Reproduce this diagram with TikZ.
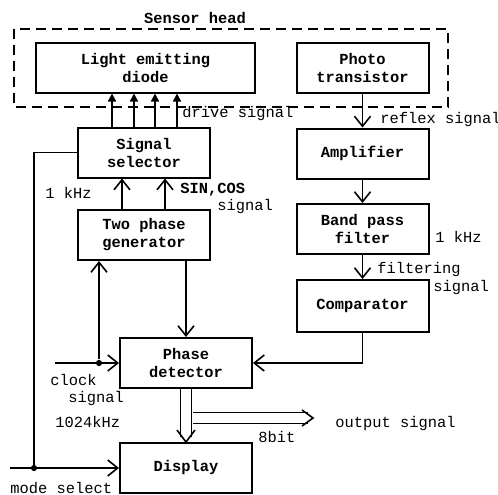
\documentclass[tikz,border=0pt]{standalone}
\usepackage{fontspec}
\setmonofont{Liberation Mono}
\usetikzlibrary{arrows.meta,calc,positioning}

\begin{document}
\begin{tikzpicture}[x=0.5pt,y=-0.5pt,
    font=\fontsize{7.7}{9}\selectfont\ttfamily,
    blk/.style={draw,line width=1pt,minimum width=66pt,minimum height=25pt,
      align=center,inner sep=1pt,font=\fontsize{7.7}{9}\selectfont\ttfamily\bfseries},
    lbl/.style={inner sep=0pt,anchor=west},
    sig/.style={line width=0.8pt,-{Straight Barb[length=5pt,width=8pt]}},
    drv/.style={line width=0.8pt,-{Triangle[length=4pt,width=4pt]}},
    bus/.style={line width=0.8pt,double,double distance=4.6pt},
    vtip/.style={line width=0.8pt,line join=miter},
    jdot/.style={circle,fill,inner sep=1.1pt}]
  \useasboundingbox (0,0) rectangle (498,494);

  % sensor head
  \draw[line width=0.8pt,dash pattern=on 5pt off 3pt] (14,29) rectangle (448,107);
  \node[font=\fontsize{7.7}{9}\selectfont\ttfamily\bfseries] (head) at (195,18) {Sensor head};

  % blocks
  \node[blk,minimum width=109.5pt] (led) at (145.5,67.5) {Light emitting\\diode};
  \node[blk] (pt) at (362.5,68) {Photo\\transistor};
  \node[blk] (sel) at (144,152.5) {Signal\\selector};
  \node[blk] (gen) at (144,235) {Two phase\\generator};
  \node[blk] (pd) at (186,363) {Phase\\detector};
  \node[blk] (disp) at (186,468) {Display};
  \node[blk] (amp) at (362.5,153.5) {Amplifier};
  \node[blk] (bpf) at (362.5,229) {Band pass\\filter};
  \node[blk,minimum height=26pt] (comp) at (362.5,306) {Comparator};

  % drive lines
  \foreach \dx in {-32,-10,11,33} {
    \coordinate (d) at ([xshift=\dx*0.5pt]sel.north);
    \draw[drv] (d) -- (d |- led.south);
  }
  \foreach \dx in {-22,21} {
    \coordinate (s) at ([xshift=\dx*0.5pt]gen.north);
    \draw[sig] (s) -- (s |- sel.south);
  }

  % receive chain
  \draw[sig] (pt.south) -- (amp.north);
  \draw[sig] (amp.south) -- (bpf.north);
  \draw[sig] (bpf.south) -- (comp.north);
  \draw[sig] (comp.south) |- (pd.east);
  \draw[sig] (pd.north |- gen.south) -- (pd.north);

  % clock and mode select
  \coordinate (clk) at (55,363);
  \node[jdot] (cj) at (99,363) {};
  \draw[sig] (clk) -- (pd.west);
  \draw[sig] (cj) -- (cj |- gen.south);
  \coordinate (mode) at (10,468);
  \node[jdot] (mj) at (34,468) {};
  \draw[sig] (mode) -- (disp.west);
  \draw[line width=0.8pt] (sel.west) -| (mj);

  % 8 bit bus
  \draw[bus] (pd.south) -- ($(disp.north)+(0,-5)$);
  \draw[vtip] ($(disp.north)+(-9,-12)$) -- (disp.north) -- ($(disp.north)+(9,-12)$);
  \coordinate (ob) at (192.5,418);
  \coordinate (oe) at (313,418);
  \draw[bus] (ob) -- ($(oe)+(-5,0)$);
  \draw[vtip] ($(oe)+(-11,-8)$) -- (oe) -- ($(oe)+(-11,8)$);

  % labels
  \node[lbl] (drvtxt) at (182,114) {drive signal};
  \node[lbl] (reftxt) at (380,120) {reflex signal};
  \node[lbl] (khzl) at (45,193) {1 kHz};
  \node[lbl,font=\fontsize{7.7}{9}\selectfont\ttfamily\bfseries] (sctxt) at (180,190) {SIN,COS};
  \node[lbl] (sctxt2) at (217,207) {signal};
  \node[lbl] (khzr) at (435,237) {1 kHz};
  \node[lbl] (filtxt) at (377,270) {filtering};
  \node[lbl] (filtxt2) at (433,288) {signal};
  \node[lbl] (clktxt) at (50,380) {clock};
  \node[lbl] (clktxt2) at (68,399) {signal};
  \node[lbl] (clktxt3) at (55,422) {1024kHz};
  \node[lbl] (bittxt) at (258,437) {8bit};
  \node[lbl] (outtxt) at (335,424) {output signal};
  \node[lbl] (modetxt) at (10,488) {mode select};
\end{tikzpicture}
\end{document}
